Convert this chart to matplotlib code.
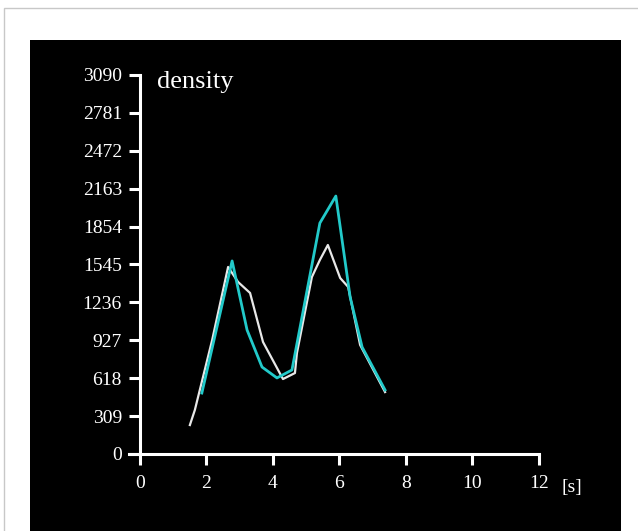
import matplotlib
matplotlib.use("Agg")
import matplotlib.pyplot as plt
from matplotlib.patches import Rectangle

plt.rcParams['font.family'] = ['Liberation Serif', 'DejaVu Serif']

# data
t_white = [1.50, 1.65, 2.17, 2.65, 2.95, 3.31, 3.70, 4.30, 4.66, 4.72, 5.17, 5.41, 5.65, 6.02, 6.26, 6.62, 7.37]
v_white = [236, 359, 929, 1525, 1402, 1313, 913, 611, 660, 823, 1443, 1582, 1704, 1435, 1362, 889, 505]

t_cyan = [1.86, 2.77, 3.22, 3.67, 4.12, 4.57, 5.41, 5.89, 6.32, 6.68, 7.37]
v_cyan = [497, 1574, 1011, 709, 620, 685, 1883, 2103, 1280, 872, 522]

yticks = [0, 309, 618, 927, 1236, 1545, 1854, 2163, 2472, 2781, 3090]
xticks = [0, 2, 4, 6, 8, 10, 12]

W, H = 638, 531
fig = plt.figure(figsize=(W / 100, H / 100), dpi=100)
fig.patch.set_facecolor('white')

# light grey frame and black panel
fig.patches.append(Rectangle((4 / W, -0.1), 2, 1 - 8 / H + 0.1, transform=fig.transFigure,
                             facecolor='white', edgecolor='#c8c8c8', lw=1, zorder=-2))
fig.patches.append(Rectangle((30 / W, 0), (621 - 30) / W, (H - 40) / H, transform=fig.transFigure,
                             facecolor='black', edgecolor='none', zorder=-1))

ax = fig.add_axes([100 / W, (H - 480) / H, 500 / W, 425 / H])
ax.set_zorder(5)
ax.set_facecolor('none')
ax.set_xlim(-1.203, 13.835)
ax.set_ylim(-212, 3253)

ax.plot(t_white, v_white, color='#e8e8e8', lw=1.6, zorder=3)
ax.plot(t_cyan, v_cyan, color='#22caca', lw=2.0, zorder=4)

for s in ['top', 'right']:
    ax.spines[s].set_visible(False)
ax.spines['left'].set_position(('data', 0))
ax.spines['bottom'].set_position(('data', 0))
ax.spines['left'].set_bounds(0, 3090)
ax.spines['bottom'].set_bounds(-0.33, 12)
for s in ['left', 'bottom']:
    ax.spines[s].set_color('white')
    ax.spines[s].set_linewidth(2.2)
    ax.spines[s].set_capstyle('projecting')

ax.set_yticks(yticks)
ax.set_xticks(xticks)
ax.set_yticklabels([str(v) for v in yticks])
ax.set_xticklabels([str(v) for v in xticks])
ax.tick_params(colors='white', labelcolor='white', labelsize=14, length=8, width=2.2, direction='out')
ax.tick_params(axis='y', pad=5)
ax.tick_params(axis='x', pad=7)

ax.text(0.51, 2984, 'density', color='white', fontsize=19, ha='left', va='baseline')
ax.text(12.68, -310, '[s]', color='white', fontsize=14, ha='left', va='baseline', clip_on=False)

fig.savefig('out.png', dpi=100)
